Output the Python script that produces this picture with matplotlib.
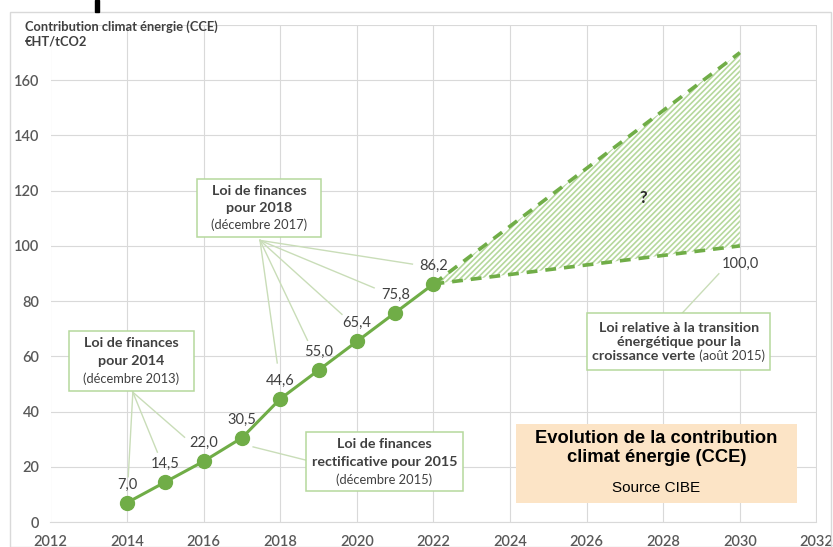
import matplotlib.pyplot as plt
from matplotlib.patches import Rectangle

# données CCE (€HT/tCO2)
years = [2014, 2015, 2016, 2017, 2018, 2019, 2020, 2021, 2022]
cce = [7.0, 14.5, 22.0, 30.5, 44.6, 55.0, 65.4, 75.8, 86.2]
proj_years = [2022, 2030]
proj_low = [86.2, 100.0]
proj_high = [86.2, 170.0]

xticks = list(range(2012, 2033, 2))
yticks = list(range(0, 181, 20))

green = '#70AD47'
light_green = '#B5D89C'
txt = '#404040'
plt.rcParams['font.family'] = ['Lato', 'DejaVu Sans']
plt.rcParams['hatch.linewidth'] = 1.2

fig = plt.figure(figsize=(8.33, 5.47), dpi=100)
ax = fig.add_axes([50.5 / 833, 25 / 547, 766 / 833, 497 / 547])

# cadre du graphique + petit trait noir en haut (capture)
fig.patches.append(Rectangle((10 / 833, 0), 821 / 833, 535 / 547, transform=fig.transFigure,
                             fill=False, edgecolor='#D9D9D9', lw=1))
fig.patches.append(Rectangle((95 / 833, 535 / 547), 4 / 833, 12 / 547, transform=fig.transFigure,
                             color='black'))

# zone hachurée de projection
ax.fill_between(proj_years, proj_low, proj_high, facecolor='white', edgecolor=light_green,
                hatch='//////', linewidth=0, zorder=2)
ax.plot(proj_years, proj_high, '--', color=green, lw=2.6, dashes=(3, 2.2), zorder=3)
ax.plot(proj_years, proj_low, '--', color=green, lw=2.6, dashes=(3, 2.2), zorder=3)

ax.plot(years, cce, '-o', color=green, lw=2.2, markersize=10, zorder=4)

for x, v in zip(years, cce):
    ax.annotate(f'{v:.1f}'.replace('.', ','), (x, v), xytext=(0, 13), textcoords='offset points',
                ha='center', va='center', fontsize=10.5, color=txt)
ax.annotate(f'{proj_low[-1]:.1f}'.replace('.', ','), (proj_years[-1], proj_low[-1]), xytext=(0, -13),
            textcoords='offset points', ha='center', va='center', fontsize=10.5, color=txt)

ax.set_xlim(2012, 2032)
ax.set_ylim(0, 180)
ax.set_xticks(xticks)
ax.set_yticks(yticks)
ax.set_yticklabels([str(t) if t <= 160 else '' for t in yticks])
ax.grid(True, color='#D9D9D9', lw=0.8)
ax.set_axisbelow(True)
for s in ['top', 'right', 'left']:
    ax.spines[s].set_visible(False)
ax.spines['bottom'].set_color('#D9D9D9')
ax.tick_params(length=0, labelsize=10.5, labelcolor='#595959')
ax.tick_params(axis='x', pad=9)
ax.tick_params(axis='y', pad=8)
for lab in ax.get_xticklabels() + ax.get_yticklabels():
    lab.set_fontweight('semibold')

fig.text(25 / 833, 1 - 20 / 547, 'Contribution climat énergie (CCE)\n€HT/tCO2', ha='left', va='top',
         fontsize=9.3, fontweight='bold', color=txt, linespacing=1.25)


# encadrés d'annotation
def box(x0, x1, y0, y1, lines, step=12.5):
    ax.add_patch(Rectangle((x0, y0), x1 - x0, y1 - y0, facecolor='white', edgecolor=light_green,
                           lw=1.1, zorder=5))
    cx, cy = (x0 + x1) / 2, (y0 + y1) / 2
    r = fig.canvas.get_renderer()
    for i, parts in enumerate(lines):
        dy = (1 - i) * step
        made = []
        for t, w in parts:
            fs = 10.3 if w == 'bold' else 9.3
            made.append(ax.annotate(t, (cx, cy), xytext=(0, dy), textcoords='offset points',
                                    ha='left', va='center', fontsize=fs, fontweight=w, color=txt,
                                    zorder=6))
        widths = [m.get_window_extent(r).width * 72 / fig.dpi for m in made]
        pos = -sum(widths) / 2
        for m, wd in zip(made, widths):
            m.set_position((pos, dy))
            pos += wd


def leaders(anchor, targets):
    for tx, ty in targets:
        ax.plot([anchor[0], tx], [anchor[1], ty], color='#C9DDB8', lw=1, zorder=1.5)


leaders((2014.15, 47.0), [(years[0] + 0.03, cce[0] + 9.4), (years[1] - 0.21, cce[1] + 10.8),
                          (years[2] - 0.50, cce[2] + 8.7)])
leaders((2017.47, 102.0), [(years[4] - 0.08, cce[4] + 13.0), (years[5] - 0.29, cce[5] + 10.8),
                           (years[6] - 0.39, cce[6] + 9.8), (years[7] - 0.55, cce[7] + 9.0),
                           (years[8] - 0.55, cce[8] + 7.2)])
leaders((2018.67, 22.4), [(years[3] + 0.29, cce[3] - 3.3)])
leaders((2028.49, 75.6), [(proj_years[1] - 0.55, proj_low[1] - 10.1)])

box(2012.48, 2015.75, 47.4, 69.1,
    [[('Loi de finances', 'bold')], [('pour 2014', 'bold')], [('(décembre 2013)', 'normal')]], 13)
box(2015.83, 2019.06, 103.1, 124.4,
    [[('Loi de finances', 'bold')], [('pour 2018', 'bold')], [('(décembre 2017)', 'normal')]], 12)
box(2018.67, 2022.77, 11.2, 32.5,
    [[('Loi de finances', 'bold')], [('rectificative pour 2015', 'bold')], [('(décembre 2015)', 'normal')]], 13)
box(2026.01, 2030.79, 55.0, 75.6,
    [[('Loi relative à la transition', 'bold')], [('énergétique pour la', 'bold')],
     [('croissance verte', 'bold'), (' (août 2015)', 'normal')]], 10.2)

ax.text(2027.47, 117.5, '?', ha='center', va='center', fontsize=12, fontweight='bold', color='#262626',
        zorder=6)

# encadré titre
ax.add_patch(Rectangle((2024.15, 6.9), 7.34, 28.5, facecolor='#FCE4C6', edgecolor='none', zorder=5))
ax.text(2027.82, 26.8, 'Evolution de la contribution\nclimat énergie (CCE)', ha='center', va='center',
        fontsize=13.2, fontweight='bold', family='Liberation Sans', color='black', linespacing=1.1,
        zorder=6)
ax.text(2027.82, 12.3, 'Source CIBE', ha='center', va='center', fontsize=11,
        family='Liberation Sans', color='black', zorder=6)

fig.savefig('out.png', dpi=100)
